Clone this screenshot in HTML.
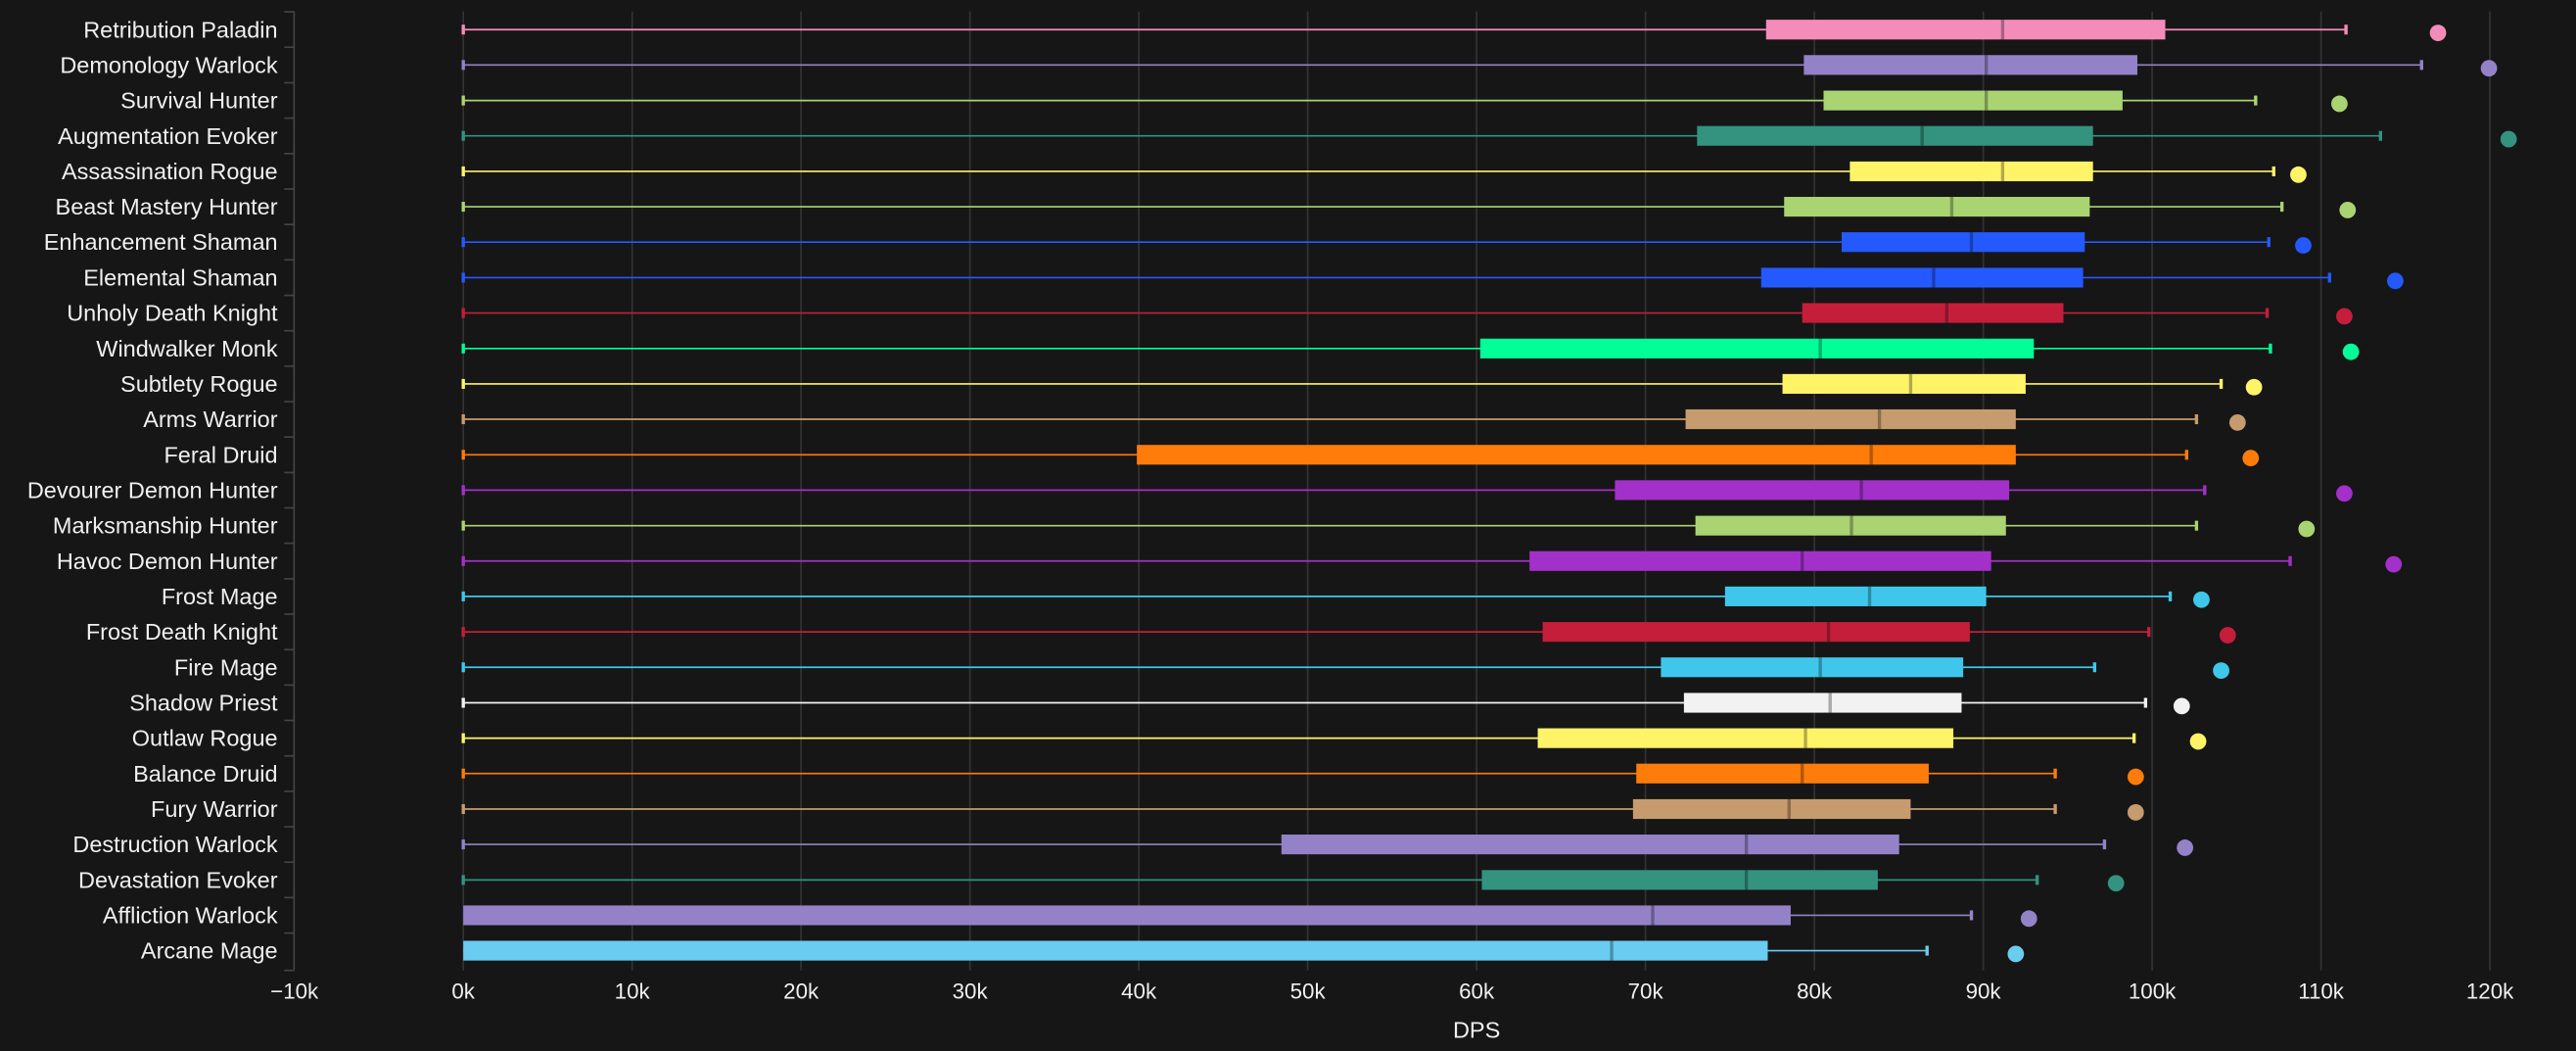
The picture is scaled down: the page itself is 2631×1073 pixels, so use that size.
<!DOCTYPE html>
<html><head><meta charset="utf-8"><style>
html,body{margin:0;padding:0;background:#161616;}
svg{display:block;}
text{font-family:"Liberation Sans",sans-serif;fill:#f0f0f0;}
</style></head><body>
<svg width="2631" height="1073" viewBox="0 0 1568 639" preserveAspectRatio="none" xmlns="http://www.w3.org/2000/svg">
<rect width="1568" height="639" fill="#161616"/>
<g stroke="#333" stroke-width="1">
<line x1="282" x2="282" y1="7" y2="590"/><line x1="384.8" x2="384.8" y1="7" y2="590"/><line x1="487.6" x2="487.6" y1="7" y2="590"/><line x1="590.4" x2="590.4" y1="7" y2="590"/><line x1="693.2" x2="693.2" y1="7" y2="590"/><line x1="796" x2="796" y1="7" y2="590"/><line x1="898.8" x2="898.8" y1="7" y2="590"/><line x1="1001.6" x2="1001.6" y1="7" y2="590"/><line x1="1104.4" x2="1104.4" y1="7" y2="590"/><line x1="1207.2" x2="1207.2" y1="7" y2="590"/><line x1="1310" x2="1310" y1="7" y2="590"/><line x1="1412.8" x2="1412.8" y1="7" y2="590"/><line x1="1515.6" x2="1515.6" y1="7" y2="590"/>
</g>
<g stroke="#444" stroke-width="1">
<line x1="179" x2="179" y1="7" y2="590"/>
<line x1="173" x2="179" y1="7.2" y2="7.2"/><line x1="173" x2="179" y1="28.7" y2="28.7"/><line x1="173" x2="179" y1="50.3" y2="50.3"/><line x1="173" x2="179" y1="71.8" y2="71.8"/><line x1="173" x2="179" y1="93.4" y2="93.4"/><line x1="173" x2="179" y1="114.9" y2="114.9"/><line x1="173" x2="179" y1="136.5" y2="136.5"/><line x1="173" x2="179" y1="158" y2="158"/><line x1="173" x2="179" y1="179.6" y2="179.6"/><line x1="173" x2="179" y1="201.1" y2="201.1"/><line x1="173" x2="179" y1="222.6" y2="222.6"/><line x1="173" x2="179" y1="244.2" y2="244.2"/><line x1="173" x2="179" y1="265.7" y2="265.7"/><line x1="173" x2="179" y1="287.3" y2="287.3"/><line x1="173" x2="179" y1="308.8" y2="308.8"/><line x1="173" x2="179" y1="330.3" y2="330.3"/><line x1="173" x2="179" y1="351.9" y2="351.9"/><line x1="173" x2="179" y1="373.4" y2="373.4"/><line x1="173" x2="179" y1="395" y2="395"/><line x1="173" x2="179" y1="416.5" y2="416.5"/><line x1="173" x2="179" y1="438" y2="438"/><line x1="173" x2="179" y1="459.6" y2="459.6"/><line x1="173" x2="179" y1="481.1" y2="481.1"/><line x1="173" x2="179" y1="502.7" y2="502.7"/><line x1="173" x2="179" y1="524.2" y2="524.2"/><line x1="173" x2="179" y1="545.7" y2="545.7"/><line x1="173" x2="179" y1="567.3" y2="567.3"/><line x1="173" x2="179" y1="590" y2="590"/>
</g>
<g font-size="14" text-anchor="end">
<text x="169" y="22.8">Retribution Paladin</text>
<text x="169" y="44.3">Demonology Warlock</text>
<text x="169" y="65.9">Survival Hunter</text>
<text x="169" y="87.4">Augmentation Evoker</text>
<text x="169" y="109">Assassination Rogue</text>
<text x="169" y="130.5">Beast Mastery Hunter</text>
<text x="169" y="152">Enhancement Shaman</text>
<text x="169" y="173.6">Elemental Shaman</text>
<text x="169" y="195.1">Unholy Death Knight</text>
<text x="169" y="216.7">Windwalker Monk</text>
<text x="169" y="238.2">Subtlety Rogue</text>
<text x="169" y="259.7">Arms Warrior</text>
<text x="169" y="281.3">Feral Druid</text>
<text x="169" y="302.8">Devourer Demon Hunter</text>
<text x="169" y="324.4">Marksmanship Hunter</text>
<text x="169" y="345.9">Havoc Demon Hunter</text>
<text x="169" y="367.4">Frost Mage</text>
<text x="169" y="389">Frost Death Knight</text>
<text x="169" y="410.5">Fire Mage</text>
<text x="169" y="432.1">Shadow Priest</text>
<text x="169" y="453.6">Outlaw Rogue</text>
<text x="169" y="475.1">Balance Druid</text>
<text x="169" y="496.7">Fury Warrior</text>
<text x="169" y="518.2">Destruction Warlock</text>
<text x="169" y="539.8">Devastation Evoker</text>
<text x="169" y="561.3">Affliction Warlock</text>
<text x="169" y="582.8">Arcane Mage</text>
</g>
<g font-size="13.3" text-anchor="middle">
<text x="179.2" y="607">−10k</text><text x="282" y="607">0k</text><text x="384.8" y="607">10k</text><text x="487.6" y="607">20k</text><text x="590.4" y="607">30k</text><text x="693.2" y="607">40k</text><text x="796" y="607">50k</text><text x="898.8" y="607">60k</text><text x="1001.6" y="607">70k</text><text x="1104.4" y="607">80k</text><text x="1207.2" y="607">90k</text><text x="1310" y="607">100k</text><text x="1412.8" y="607">110k</text><text x="1515.6" y="607">120k</text>
<text x="898.8" y="631" font-size="14">DPS</text>
</g>

<g fill="#f48cba" stroke="#f48cba"><line x1="282" x2="1428" y1="18" y2="18"/><rect x="281" y="15" width="2" height="6" stroke="none"/><rect x="1427" y="15" width="2" height="6" stroke="none"/><rect x="1075" y="12" width="243" height="12" stroke="none"/><line x1="1219" x2="1219" y1="12" y2="24" stroke="#000" stroke-opacity=".3" stroke-width="2"/><circle cx="1484" cy="20" r="5" stroke="none"/></g>
<g fill="#9482c9" stroke="#9482c9"><line x1="282" x2="1474" y1="39.5" y2="39.5"/><rect x="281" y="36.5" width="2" height="6" stroke="none"/><rect x="1473" y="36.5" width="2" height="6" stroke="none"/><rect x="1098" y="33.5" width="203" height="12" stroke="none"/><line x1="1209" x2="1209" y1="33.5" y2="45.5" stroke="#000" stroke-opacity=".3" stroke-width="2"/><circle cx="1515" cy="41.5" r="5" stroke="none"/></g>
<g fill="#aad372" stroke="#aad372"><line x1="282" x2="1373" y1="61.1" y2="61.1"/><rect x="281" y="58.1" width="2" height="6" stroke="none"/><rect x="1372" y="58.1" width="2" height="6" stroke="none"/><rect x="1110" y="55.1" width="182" height="12" stroke="none"/><line x1="1209" x2="1209" y1="55.1" y2="67.1" stroke="#000" stroke-opacity=".3" stroke-width="2"/><circle cx="1424" cy="63.1" r="5" stroke="none"/></g>
<g fill="#33937f" stroke="#33937f"><line x1="282" x2="1449" y1="82.6" y2="82.6"/><rect x="281" y="79.6" width="2" height="6" stroke="none"/><rect x="1448" y="79.6" width="2" height="6" stroke="none"/><rect x="1033" y="76.6" width="241" height="12" stroke="none"/><line x1="1170" x2="1170" y1="76.6" y2="88.6" stroke="#000" stroke-opacity=".3" stroke-width="2"/><circle cx="1527" cy="84.6" r="5" stroke="none"/></g>
<g fill="#fff468" stroke="#fff468"><line x1="282" x2="1384" y1="104.2" y2="104.2"/><rect x="281" y="101.2" width="2" height="6" stroke="none"/><rect x="1383" y="101.2" width="2" height="6" stroke="none"/><rect x="1126" y="98.2" width="148" height="12" stroke="none"/><line x1="1219" x2="1219" y1="98.2" y2="110.2" stroke="#000" stroke-opacity=".3" stroke-width="2"/><circle cx="1399" cy="106.2" r="5" stroke="none"/></g>
<g fill="#aad372" stroke="#aad372"><line x1="282" x2="1389" y1="125.7" y2="125.7"/><rect x="281" y="122.7" width="2" height="6" stroke="none"/><rect x="1388" y="122.7" width="2" height="6" stroke="none"/><rect x="1086" y="119.7" width="186" height="12" stroke="none"/><line x1="1188" x2="1188" y1="119.7" y2="131.7" stroke="#000" stroke-opacity=".3" stroke-width="2"/><circle cx="1429" cy="127.7" r="5" stroke="none"/></g>
<g fill="#2459ff" stroke="#2459ff"><line x1="282" x2="1381" y1="147.2" y2="147.2"/><rect x="281" y="144.2" width="2" height="6" stroke="none"/><rect x="1380" y="144.2" width="2" height="6" stroke="none"/><rect x="1121" y="141.2" width="148" height="12" stroke="none"/><line x1="1200" x2="1200" y1="141.2" y2="153.2" stroke="#000" stroke-opacity=".3" stroke-width="2"/><circle cx="1402" cy="149.2" r="5" stroke="none"/></g>
<g fill="#2459ff" stroke="#2459ff"><line x1="282" x2="1418" y1="168.8" y2="168.8"/><rect x="281" y="165.8" width="2" height="6" stroke="none"/><rect x="1417" y="165.8" width="2" height="6" stroke="none"/><rect x="1072" y="162.8" width="196" height="12" stroke="none"/><line x1="1177" x2="1177" y1="162.8" y2="174.8" stroke="#000" stroke-opacity=".3" stroke-width="2"/><circle cx="1458" cy="170.8" r="5" stroke="none"/></g>
<g fill="#c41e3a" stroke="#c41e3a"><line x1="282" x2="1380" y1="190.3" y2="190.3"/><rect x="281" y="187.3" width="2" height="6" stroke="none"/><rect x="1379" y="187.3" width="2" height="6" stroke="none"/><rect x="1097" y="184.3" width="159" height="12" stroke="none"/><line x1="1185" x2="1185" y1="184.3" y2="196.3" stroke="#000" stroke-opacity=".3" stroke-width="2"/><circle cx="1427" cy="192.3" r="5" stroke="none"/></g>
<g fill="#00ff98" stroke="#00ff98"><line x1="282" x2="1382" y1="211.9" y2="211.9"/><rect x="281" y="208.9" width="2" height="6" stroke="none"/><rect x="1381" y="208.9" width="2" height="6" stroke="none"/><rect x="901" y="205.9" width="337" height="12" stroke="none"/><line x1="1108" x2="1108" y1="205.9" y2="217.9" stroke="#000" stroke-opacity=".3" stroke-width="2"/><circle cx="1431" cy="213.9" r="5" stroke="none"/></g>
<g fill="#fff468" stroke="#fff468"><line x1="282" x2="1352" y1="233.4" y2="233.4"/><rect x="281" y="230.4" width="2" height="6" stroke="none"/><rect x="1351" y="230.4" width="2" height="6" stroke="none"/><rect x="1085" y="227.4" width="148" height="12" stroke="none"/><line x1="1163" x2="1163" y1="227.4" y2="239.4" stroke="#000" stroke-opacity=".3" stroke-width="2"/><circle cx="1372" cy="235.4" r="5" stroke="none"/></g>
<g fill="#c69b6d" stroke="#c69b6d"><line x1="282" x2="1337" y1="254.9" y2="254.9"/><rect x="281" y="251.9" width="2" height="6" stroke="none"/><rect x="1336" y="251.9" width="2" height="6" stroke="none"/><rect x="1026" y="248.9" width="201" height="12" stroke="none"/><line x1="1144" x2="1144" y1="248.9" y2="260.9" stroke="#000" stroke-opacity=".3" stroke-width="2"/><circle cx="1362" cy="256.9" r="5" stroke="none"/></g>
<g fill="#ff7c0a" stroke="#ff7c0a"><line x1="282" x2="1331" y1="276.5" y2="276.5"/><rect x="281" y="273.5" width="2" height="6" stroke="none"/><rect x="1330" y="273.5" width="2" height="6" stroke="none"/><rect x="692" y="270.5" width="535" height="12" stroke="none"/><line x1="1139" x2="1139" y1="270.5" y2="282.5" stroke="#000" stroke-opacity=".3" stroke-width="2"/><circle cx="1370" cy="278.5" r="5" stroke="none"/></g>
<g fill="#a330c9" stroke="#a330c9"><line x1="282" x2="1342" y1="298" y2="298"/><rect x="281" y="295" width="2" height="6" stroke="none"/><rect x="1341" y="295" width="2" height="6" stroke="none"/><rect x="983" y="292" width="240" height="12" stroke="none"/><line x1="1133" x2="1133" y1="292" y2="304" stroke="#000" stroke-opacity=".3" stroke-width="2"/><circle cx="1427" cy="300" r="5" stroke="none"/></g>
<g fill="#aad372" stroke="#aad372"><line x1="282" x2="1337" y1="319.6" y2="319.6"/><rect x="281" y="316.6" width="2" height="6" stroke="none"/><rect x="1336" y="316.6" width="2" height="6" stroke="none"/><rect x="1032" y="313.6" width="189" height="12" stroke="none"/><line x1="1127" x2="1127" y1="313.6" y2="325.6" stroke="#000" stroke-opacity=".3" stroke-width="2"/><circle cx="1404" cy="321.6" r="5" stroke="none"/></g>
<g fill="#a330c9" stroke="#a330c9"><line x1="282" x2="1394" y1="341.1" y2="341.1"/><rect x="281" y="338.1" width="2" height="6" stroke="none"/><rect x="1393" y="338.1" width="2" height="6" stroke="none"/><rect x="931" y="335.1" width="281" height="12" stroke="none"/><line x1="1097" x2="1097" y1="335.1" y2="347.1" stroke="#000" stroke-opacity=".3" stroke-width="2"/><circle cx="1457" cy="343.1" r="5" stroke="none"/></g>
<g fill="#3fc7eb" stroke="#3fc7eb"><line x1="282" x2="1321" y1="362.6" y2="362.6"/><rect x="281" y="359.6" width="2" height="6" stroke="none"/><rect x="1320" y="359.6" width="2" height="6" stroke="none"/><rect x="1050" y="356.6" width="159" height="12" stroke="none"/><line x1="1138" x2="1138" y1="356.6" y2="368.6" stroke="#000" stroke-opacity=".3" stroke-width="2"/><circle cx="1340" cy="364.6" r="5" stroke="none"/></g>
<g fill="#c41e3a" stroke="#c41e3a"><line x1="282" x2="1308" y1="384.2" y2="384.2"/><rect x="281" y="381.2" width="2" height="6" stroke="none"/><rect x="1307" y="381.2" width="2" height="6" stroke="none"/><rect x="939" y="378.2" width="260" height="12" stroke="none"/><line x1="1113" x2="1113" y1="378.2" y2="390.2" stroke="#000" stroke-opacity=".3" stroke-width="2"/><circle cx="1356" cy="386.2" r="5" stroke="none"/></g>
<g fill="#3fc7eb" stroke="#3fc7eb"><line x1="282" x2="1275" y1="405.7" y2="405.7"/><rect x="281" y="402.7" width="2" height="6" stroke="none"/><rect x="1274" y="402.7" width="2" height="6" stroke="none"/><rect x="1011" y="399.7" width="184" height="12" stroke="none"/><line x1="1108" x2="1108" y1="399.7" y2="411.7" stroke="#000" stroke-opacity=".3" stroke-width="2"/><circle cx="1352" cy="407.7" r="5" stroke="none"/></g>
<g fill="#f2f2f2" stroke="#f2f2f2"><line x1="282" x2="1306" y1="427.3" y2="427.3"/><rect x="281" y="424.3" width="2" height="6" stroke="none"/><rect x="1305" y="424.3" width="2" height="6" stroke="none"/><rect x="1025" y="421.3" width="169" height="12" stroke="none"/><line x1="1114" x2="1114" y1="421.3" y2="433.3" stroke="#000" stroke-opacity=".3" stroke-width="2"/><circle cx="1328" cy="429.3" r="5" stroke="none"/></g>
<g fill="#fff468" stroke="#fff468"><line x1="282" x2="1299" y1="448.8" y2="448.8"/><rect x="281" y="445.8" width="2" height="6" stroke="none"/><rect x="1298" y="445.8" width="2" height="6" stroke="none"/><rect x="936" y="442.8" width="253" height="12" stroke="none"/><line x1="1099" x2="1099" y1="442.8" y2="454.8" stroke="#000" stroke-opacity=".3" stroke-width="2"/><circle cx="1338" cy="450.8" r="5" stroke="none"/></g>
<g fill="#ff7c0a" stroke="#ff7c0a"><line x1="282" x2="1251" y1="470.3" y2="470.3"/><rect x="281" y="467.3" width="2" height="6" stroke="none"/><rect x="1250" y="467.3" width="2" height="6" stroke="none"/><rect x="996" y="464.3" width="178" height="12" stroke="none"/><line x1="1097" x2="1097" y1="464.3" y2="476.3" stroke="#000" stroke-opacity=".3" stroke-width="2"/><circle cx="1300" cy="472.3" r="5" stroke="none"/></g>
<g fill="#c69b6d" stroke="#c69b6d"><line x1="282" x2="1251" y1="491.9" y2="491.9"/><rect x="281" y="488.9" width="2" height="6" stroke="none"/><rect x="1250" y="488.9" width="2" height="6" stroke="none"/><rect x="994" y="485.9" width="169" height="12" stroke="none"/><line x1="1089" x2="1089" y1="485.9" y2="497.9" stroke="#000" stroke-opacity=".3" stroke-width="2"/><circle cx="1300" cy="493.9" r="5" stroke="none"/></g>
<g fill="#9482c9" stroke="#9482c9"><line x1="282" x2="1281" y1="513.4" y2="513.4"/><rect x="281" y="510.4" width="2" height="6" stroke="none"/><rect x="1280" y="510.4" width="2" height="6" stroke="none"/><rect x="780" y="507.4" width="376" height="12" stroke="none"/><line x1="1063" x2="1063" y1="507.4" y2="519.4" stroke="#000" stroke-opacity=".3" stroke-width="2"/><circle cx="1330" cy="515.4" r="5" stroke="none"/></g>
<g fill="#33937f" stroke="#33937f"><line x1="282" x2="1240" y1="535" y2="535"/><rect x="281" y="532" width="2" height="6" stroke="none"/><rect x="1239" y="532" width="2" height="6" stroke="none"/><rect x="902" y="529" width="241" height="12" stroke="none"/><line x1="1063" x2="1063" y1="529" y2="541" stroke="#000" stroke-opacity=".3" stroke-width="2"/><circle cx="1288" cy="537" r="5" stroke="none"/></g>
<g fill="#9482c9" stroke="#9482c9"><line x1="282" x2="1200" y1="556.5" y2="556.5"/><rect x="1199" y="553.5" width="2" height="6" stroke="none"/><rect x="282" y="550.5" width="808" height="12" stroke="none"/><line x1="1006" x2="1006" y1="550.5" y2="562.5" stroke="#000" stroke-opacity=".3" stroke-width="2"/><circle cx="1235" cy="558.5" r="5" stroke="none"/></g>
<g fill="#69ccf0" stroke="#69ccf0"><line x1="282" x2="1173" y1="578" y2="578"/><rect x="1172" y="575" width="2" height="6" stroke="none"/><rect x="282" y="572" width="794" height="12" stroke="none"/><line x1="981" x2="981" y1="572" y2="584" stroke="#000" stroke-opacity=".3" stroke-width="2"/><circle cx="1227" cy="580" r="5" stroke="none"/></g>
</svg>
</body></html>
